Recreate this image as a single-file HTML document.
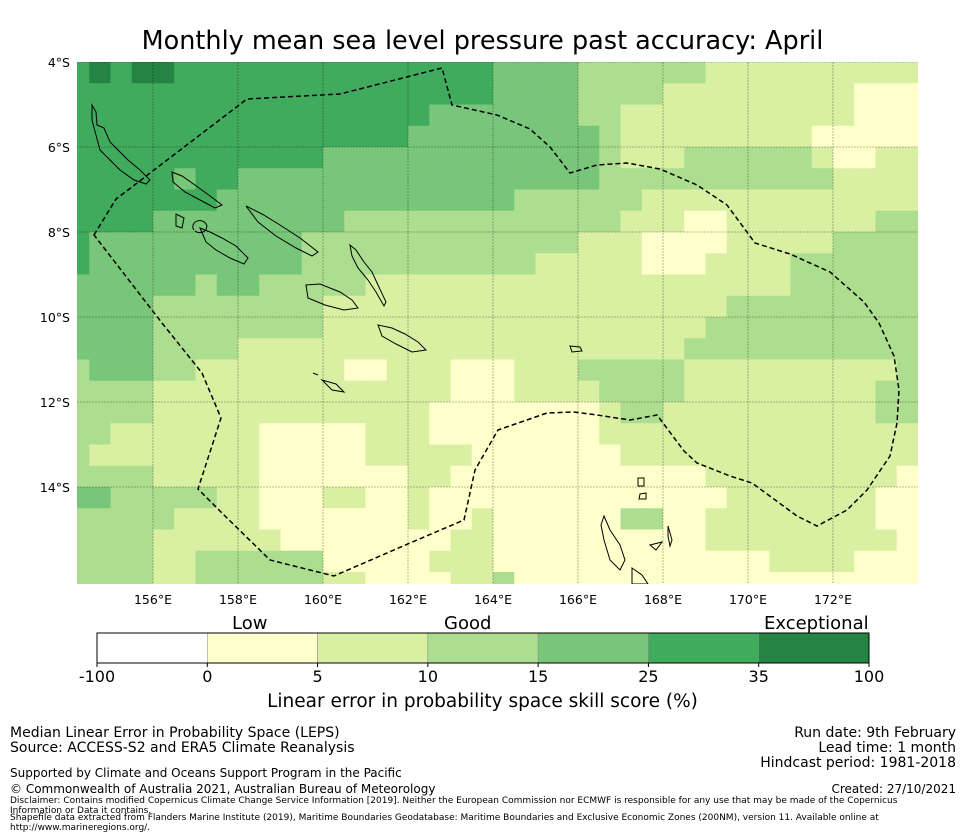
<!DOCTYPE html>
<html><head><meta charset="utf-8">
<style>
body{margin:0;background:#fff;font-family:"DejaVu Sans","Liberation Sans",sans-serif;}
#wrap{position:relative;width:965px;height:839px;overflow:hidden;background:#fff}
.t{position:absolute;white-space:nowrap;color:#000}
</style></head>
<body>
<div id="wrap">
<div class="t" style="left:0;width:965px;text-align:center;top:26px;font-size:25.5px">Monthly mean sea level pressure past accuracy: April</div>
<svg id="map" width="965" height="839" style="position:absolute;left:0;top:0">
<defs><clipPath id="mc"><rect x="77" y="62" width="841" height="522"/></clipPath></defs>
<g id="cells" clip-path="url(#mc)"></g>
<g id="grid" clip-path="url(#mc)"></g>
<g clip-path="url(#mc)" fill="none" stroke="#000" stroke-width="1">
<path d="M92,105 L96,112 L97,125 L104,128 L110,142 L120,152 L128,160 L140,170 L150,180 L146,184 L134,180 L120,170 L110,160 L100,150 L96,135 L92,120 Z"/>
<path d="M172,172 L182,176 L195,185 L210,196 L222,205 L215,208 L200,200 L185,192 L173,182 Z"/>
<path d="M246,206 L262,214 L280,225 L300,238 L318,252 L312,256 L296,248 L276,236 L258,222 Z"/>
<path d="M200,228 L210,232 L222,238 L236,246 L248,258 L244,264 L230,258 L216,250 L206,242 Z"/>
<path d="M194,230 A7,6 0 1 1 195,231"/>
<path d="M176,214 L184,218 L182,228 L176,226 Z"/>
<path d="M350,245 L356,250 L364,262 L372,272 L378,285 L386,302 L384,306 L376,292 L368,280 L358,268 L352,256 Z"/>
<path d="M306,285 L320,284 L340,292 L352,300 L358,308 L344,310 L325,305 L308,298 Z"/>
<path d="M378,325 L392,328 L405,334 L418,342 L426,350 L412,352 L396,344 L382,336 Z"/>
<path d="M570,346 L580,347 L582,351 L572,352 Z"/>
<path d="M604,516 L610,530 L620,545 L625,560 L620,570 L610,560 L604,540 L601,525 Z"/>
<path d="M650,545 L662,542 L656,550 Z"/>
<path d="M668,526 L672,540 L670,546 L668,536 Z"/>
<path d="M632,568 L642,575 L648,584 L632,584 Z"/>
<path d="M638,478 L644,478 L644,486 L638,486 Z"/>
<path d="M640,494 L646,493 L646,499 L639,499 Z"/>
<path d="M313,373 L318,375"/><path d="M322,380 L336,384 L344,392 L332,390 Z"/>
</g>
<path clip-path="url(#mc)" fill="none" stroke="#000" stroke-width="1.5" stroke-dasharray="5,3"
d="M94,235 L116,199 L132,187 L154,170 L247,99 L340,94 L442,68 L452,105 L497,115 L530,129 L550,147 L570,173 L597,165 L627,163 L660,169 L697,185 L727,205 L755,243 L790,254 L830,272 L864,302 L879,323 L894,356 L899,390 L897,423 L890,456 L867,490 L847,510 L817,526 L797,516 L752,483 L730,476 L697,463 L684,451 L657,415 L630,420 L597,415 L574,412 L547,413 L498,430 L475,470 L464,520 L410,543 L334,576 L270,560 L224,515 L198,489 L221,418 L202,373 L194,363 L162,323 Z"/>
<g id="axes"></g>
<g id="cbar"></g>
</svg>
<div class="t" style="left:232px;top:613px;font-size:18px">Low</div>
<div class="t" style="left:444px;top:613px;font-size:18px">Good</div>
<div class="t" style="left:764px;top:613px;font-size:18px">Exceptional</div>
<div class="t" style="left:0;width:965px;text-align:center;top:691px;font-size:18.5px">Linear error in probability space skill score (%)</div>
<div class="t" style="left:10px;top:725px;font-size:14px">Median Linear Error in Probability Space (LEPS)</div>
<div class="t" style="left:10px;top:740px;font-size:14px">Source: ACCESS-S2 and ERA5 Climate Reanalysis</div>
<div class="t" style="left:10px;top:766px;font-size:12px">Supported by Climate and Oceans Support Program in the Pacific</div>
<div class="t" style="left:10px;top:782px;font-size:12px">© Commonwealth of Australia 2021, Australian Bureau of Meteorology</div>
<div class="t" style="left:10px;top:796px;font-size:9px;line-height:10px;white-space:normal;width:915px">Disclaimer: Contains modified Copernicus Climate Change Service Information [2019]. Neither the European Commission nor ECMWF is responsible for any use that may be made of the Copernicus Information or Data it contains.</div>
<div class="t" style="left:10px;top:813px;font-size:9px;line-height:10px;white-space:normal;width:900px">Shapefile data extracted from Flanders Marine Institute (2019), Maritime Boundaries Geodatabase: Maritime Boundaries and Exclusive Economic Zones (200NM), version 11. Available online at http://www.marineregions.org/.</div>
<div class="t" style="right:9px;top:725px;font-size:14px;text-align:right">Run date: 9th February</div>
<div class="t" style="right:9px;top:740px;font-size:14px;text-align:right">Lead time: 1 month</div>
<div class="t" style="right:9px;top:755px;font-size:14px;text-align:right">Hindcast period: 1981-2018</div>
<div class="t" style="right:9px;top:782px;font-size:12px;text-align:right">Created: 27/10/2021</div>
</div>
<script>
const gridLon0 = 154.0;
const gridLat0 = 4.0;
const gridStep = 0.5;
const skillRows = [
"5656655555555555555544443333332222222222",
"5555555555555555555544443333222222222111",
"5555555555555555544444443322222222222111",
"5555555555555555444444444322222222211111",
"5555555555554444444444444322233333321122",
"5555545544444444444444444333333333332222",
"5555555444444444444443333332222222222222",
"5555444444444333333333333322211222222233",
"5444444444433333333333332221111222223333",
"5444444444433333333333222221112222333333",
"4444443443333322222222222222222222333333",
"4444333333332222222222222222222333333333",
"4444333333332222222222222222223333333333",
"4444333322222222222222222222233333333333",
"3444332222222112221112223333322222222223",
"3333222222222222221112222333322222222233",
"3333222222222222211111111233222222222233",
"3322222221111122211111111222222222222222",
"3222222221111122222111111122222222222222",
"3333222221111111221111111111112222222221",
"4433333221112211211111111111111222222211",
"3333322221111111211211111133112222222211",
"3333222222111111112211111111112222222221",
"3333223333331111122211111111111112222111",
"3333223333332211112231111111111111111111"
];
const classColors = ["#ffffff","#ffffcc","#d9f0a3","#addd8e","#78c679","#41ab5d","#238443"];
const lonTicks = [156,158,160,162,164,166,168,170,172];
const latTicks = [4,6,8,10,12,14];
const cbarLabels = ["-100","0","5","10","15","25","35","100"];

const lonX = lon => 153 + (lon - 156) * 42.5;
const latY = lat => 62 + (lat - 4) * 42.5;
const NS = "http://www.w3.org/2000/svg";
const FONT = "DejaVu Sans, Liberation Sans, sans-serif";
function mk(tag, attrs){const e=document.createElementNS(NS,tag);for(const k in attrs)e.setAttribute(k,attrs[k]);return e;}

const cells = document.getElementById('cells');
skillRows.forEach((row, r) => {
  for (let c = 0; c < row.length; c++) {
    const lon = gridLon0 + c * gridStep, lat = gridLat0 + r * gridStep;
    const x = lonX(lon), y = latY(lat);
    const rect = mk('rect', {x: x, y: y, width: lonX(lon + gridStep) - x + 0.5, height: latY(lat + gridStep) - y + 0.5, fill: classColors[+row[c]]});
    
    
    cells.appendChild(rect);
  }
});

const grid = document.getElementById('grid');
const axes = document.getElementById('axes');
lonTicks.forEach(lon => {
  const x = lonX(lon);
  const l = mk('line', {x1: x, x2: x, y1: 62, y2: 584, stroke: 'rgba(0,0,0,0.35)', 'stroke-width': 0.8, 'stroke-dasharray': '2,1'});
  
  
  grid.appendChild(l);
  const t = mk('text', {x: x, y: 604, 'text-anchor': 'middle', 'font-size': 12.5, 'font-family': FONT});
  t.textContent = lon + '°E';
  
  
  axes.appendChild(t);
});
latTicks.forEach(lat => {
  const y = latY(lat);
  const l = mk('line', {x1: 77, x2: 918, y1: y, y2: y, stroke: 'rgba(0,0,0,0.35)', 'stroke-width': 0.8, 'stroke-dasharray': '2,1'});
  
  
  grid.appendChild(l);
  const t = mk('text', {x: 70, y: y + 5, 'text-anchor': 'end', 'font-size': 12.5, 'font-family': FONT});
  t.textContent = lat + '°S';
  
  
  axes.appendChild(t);
});

const cbar = document.getElementById('cbar');
const cbX0 = 97, cbX1 = 869, cbY = 633, cbH = 30;
const segW = (cbX1 - cbX0) / classColors.length;
classColors.forEach((col, i) => {
  const r = mk('rect', {x: cbX0 + i * segW, y: cbY, width: segW, height: cbH, fill: col, stroke: '#888', 'stroke-width': 0.5});
  
  
  cbar.appendChild(r);
});
const frame = mk('rect', {x: cbX0, y: cbY, width: cbX1 - cbX0, height: cbH, fill: 'none', stroke: '#000', 'stroke-width': 1});


cbar.appendChild(frame);
cbarLabels.forEach((lab, i) => {
  const x = cbX0 + i * segW;
  const tk = mk('line', {x1: x, x2: x, y1: cbY + cbH, y2: cbY + cbH + 4, stroke: '#000'});
  
  
  cbar.appendChild(tk);
  const t = mk('text', {x: x, y: 682, 'text-anchor': 'middle', 'font-size': 16, 'font-family': FONT});
  t.textContent = lab;
  
  
  cbar.appendChild(t);
});
</script>
</body></html>
